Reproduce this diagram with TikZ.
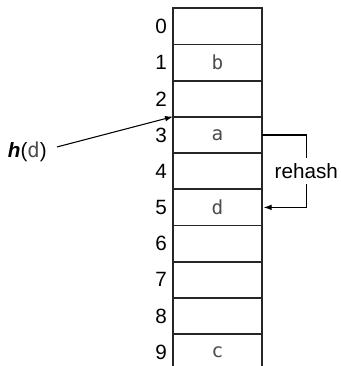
\documentclass[tikz,border=0pt]{standalone}
\usepackage{fontspec}
\setmainfont{Liberation Sans}
\newfontfamily\slotfont{DejaVu Sans Mono}
\usetikzlibrary{arrows.meta,positioning}
\tikzset{
	cell/.style = {minimum width=66.3pt, minimum height=27.15pt, inner sep=0pt, font=\slotfont\fontsize{14.5}{16}\selectfont, text=black!70},
	idx/.style = {inner sep=0pt, font=\fontsize{15.5}{18}\selectfont},
	tbl/.style = {draw=black!85, line width=0.9pt},
	arr/.style = {line width=0.8pt, -{Latex[length=6pt,width=4.2pt]}}
}
\begin{document}
\begin{tikzpicture}[x=0.75pt, y=-0.75pt]
		\useasboundingbox (0,0) rectangle (341,366);
		\foreach \i/\v in {0/, 1/b, 2/, 3/a, 4/, 5/d, 6/, 7/, 8/, 9/c}
		{\node[cell] (c\i) at (217.5,26.4+36.2*\i) {\v};
		\node[idx, left=4.5pt of c\i.west] (n\i) {\i};}
		\foreach \i in {0, ..., 8}
		{\draw[tbl] (c\i.north west) rectangle (c\i.south east);}
		\draw[tbl] (c9.south west) -- (c9.north west) -- (c9.north east) -- (c9.south east);
		\node[idx, anchor=base east] (hd) at (47,158) {\textbf{\textit{h}}({\slotfont\color{black!70}d})};
		\draw[arr] ([xshift=7.5pt, yshift=4pt]hd.east) -- (c3.north west);
		\coordinate (turn) at ([xshift=44.3*0.75pt]c3.east);
		\draw[arr] (c3.east) -- (turn) |- node[pos=0.25, fill=white, inner xsep=1pt, inner ysep=4pt, font=\fontsize{15.5}{18}\selectfont] (rh) {rehash} ([xshift=1.2pt]c5.east);
	\end{tikzpicture}
\end{document}
